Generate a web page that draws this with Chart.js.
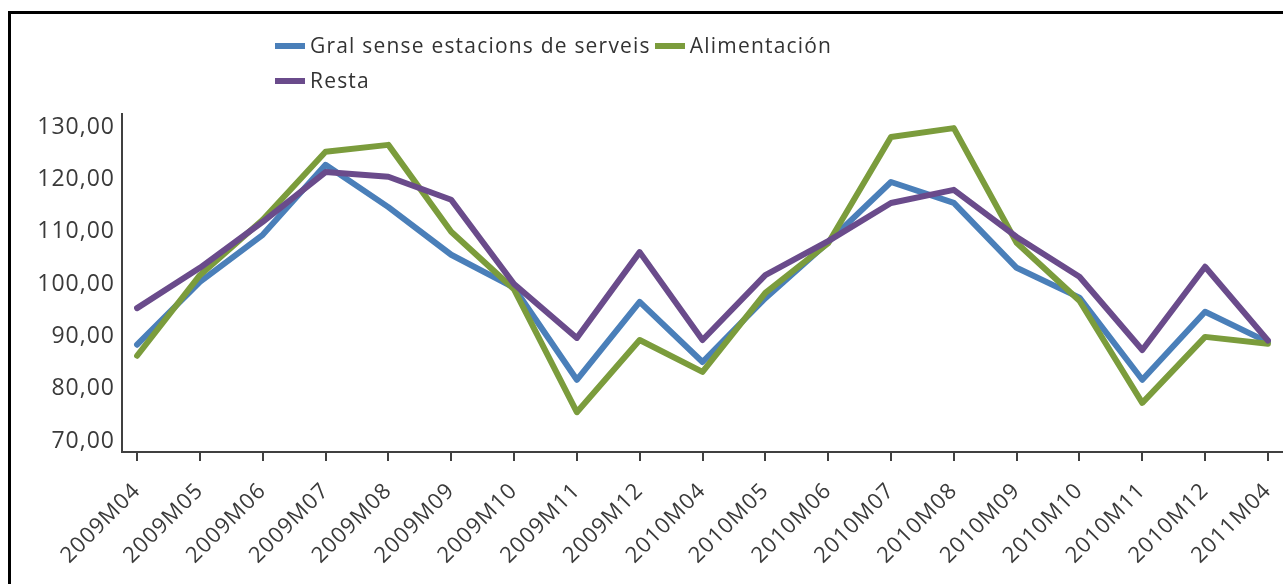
<!DOCTYPE html>
<html>
<head>
<meta charset="utf-8">
<script src="https://cdn.jsdelivr.net/npm/chart.js@4"></script>
<style>
  body { margin: 0; background: #fff; }
  #wrap { position: relative; width: 1283px; height: 584px; overflow: hidden; }
  #frame { position: absolute; left: 8px; top: 11px; width: 1400px; height: 700px; border: 3px solid #000; box-sizing: border-box; }
  #myLineChart { position: absolute; left: 0; top: 0; }
  #legend { position: absolute; left: 275px; top: 28px; width: 590px; display: flex; flex-wrap: wrap;
            font-family: "Open Sans", sans-serif; font-size: 21px; letter-spacing: 1.2px; color: #333; line-height: 35px; }
  #legend .item { display: flex; align-items: center; margin-right: 4px; }
  #legend .box { width: 30px; height: 6px; margin-right: 5px; }
</style>
</head>
<body>
<div id="wrap">
  <div id="frame"></div>
  <canvas id="myLineChart" width="1283" height="584"></canvas>
  <div id="legend"></div>
</div>
<script>
const labels = ['2009M04', '2009M05', '2009M06', '2009M07', '2009M08', '2009M09', '2009M10', '2009M11', '2009M12',
                '2010M04', '2010M05', '2010M06', '2010M07', '2010M08', '2010M09', '2010M10', '2010M11', '2010M12', '2011M04'];
const gralData = [88.4, 100.4, 109.4, 122.8, 114.7, 105.6, 99.3, 81.7, 96.6, 85.1, 97.3, 108.0, 119.5, 115.5, 103.1, 97.4, 81.7, 94.7, 88.9];
const alimData = [86.3, 101.7, 112.3, 125.3, 126.6, 110.0, 99.0, 75.5, 89.3, 83.2, 98.3, 107.8, 128.1, 129.8, 107.9, 96.8, 77.3, 89.9, 88.6];
const restaData = [95.4, 103.1, 111.9, 121.4, 120.5, 116.1, 100.0, 89.7, 106.1, 89.3, 101.7, 108.2, 115.5, 118.0, 109.0, 101.4, 87.4, 103.3, 89.2];
const yTicks = [70, 80, 90, 100, 110, 120, 130];

function points(arr) {
    return arr.map(function(v, i) { return { x: i, y: v }; });
}

const axisColor = '#404040';

// the reference text is set quite loose, so widen the canvas letter spacing
const spacing = {
    id: 'spacing',
    beforeLayout: function(chart) { chart.ctx.letterSpacing = '1px'; },
    beforeDraw: function(chart) { chart.ctx.letterSpacing = '1px'; }
};

const ctx = document.getElementById('myLineChart');
const chart = new Chart(ctx, {
    type: 'line',
    data: {
        datasets: [{
            label: 'Gral sense estacions de serveis',
            data: points(gralData),
            borderColor: '#4a7fb9',
            backgroundColor: '#4a7fb9',
            order: 3
        }, {
            label: 'Alimentación',
            data: points(alimData),
            borderColor: '#7b9c3c',
            backgroundColor: '#7b9c3c',
            order: 2
        }, {
            label: 'Resta',
            data: points(restaData),
            borderColor: '#6a4b8b',
            backgroundColor: '#6a4b8b',
            order: 1
        }]
    },
    plugins: [spacing],
    options: {
        responsive: false,
        animation: false,
        elements: {
            line: { borderWidth: 6, tension: 0, borderJoinStyle: 'round', borderCapStyle: 'round' },
            point: { radius: 0 }
        },
        layout: { padding: { top: 114, left: 0, right: 0, bottom: 0 } },
        plugins: { legend: { display: false }, tooltip: { enabled: false } },
        scales: {
            x: {
                type: 'linear',
                min: -0.24,
                max: 18.24,
                afterBuildTicks: function(scale) {
                    scale.ticks = labels.map(function(l, i) { return { value: i }; });
                },
                afterFit: function(scale) {
                    scale.height = 132;
                    scale.paddingLeft = 0;
                    scale.paddingRight = 0;
                },
                grid: { drawOnChartArea: false, color: axisColor, lineWidth: 2, tickLength: 9 },
                border: { color: axisColor, width: 2 },
                ticks: {
                    autoSkip: false,
                    minRotation: 45,
                    maxRotation: 45,
                    padding: 17,
                    color: '#3a3a3a',
                    font: { family: 'Open Sans', size: 22 },
                    callback: function(v) { return labels[v]; }
                }
            },
            y: {
                min: 67.9,
                max: 132.5,
                afterBuildTicks: function(scale) {
                    scale.ticks = yTicks.map(function(v) { return { value: v }; });
                },
                afterFit: function(scale) {
                    scale.width = 122;
                    scale.paddingTop = 0;
                    scale.paddingBottom = 0;
                },
                grid: { drawOnChartArea: false, drawTicks: false },
                border: { color: axisColor, width: 2 },
                ticks: {
                    padding: 7,
                    color: '#3a3a3a',
                    font: { family: 'Open Sans', size: 23 },
                    callback: function(v) { return v.toFixed(2).replace('.', ','); }
                }
            }
        }
    }
});

// legend built from the datasets, keeping series order
const legendEl = document.getElementById('legend');
chart.data.datasets.forEach(function(ds) {
    const item = document.createElement('div');
    item.className = 'item';
    const box = document.createElement('span');
    box.className = 'box';
    box.style.background = ds.borderColor;
    const txt = document.createElement('span');
    txt.textContent = ds.label;
    item.appendChild(box);
    item.appendChild(txt);
    legendEl.appendChild(item);
});
</script>
</body>
</html>
